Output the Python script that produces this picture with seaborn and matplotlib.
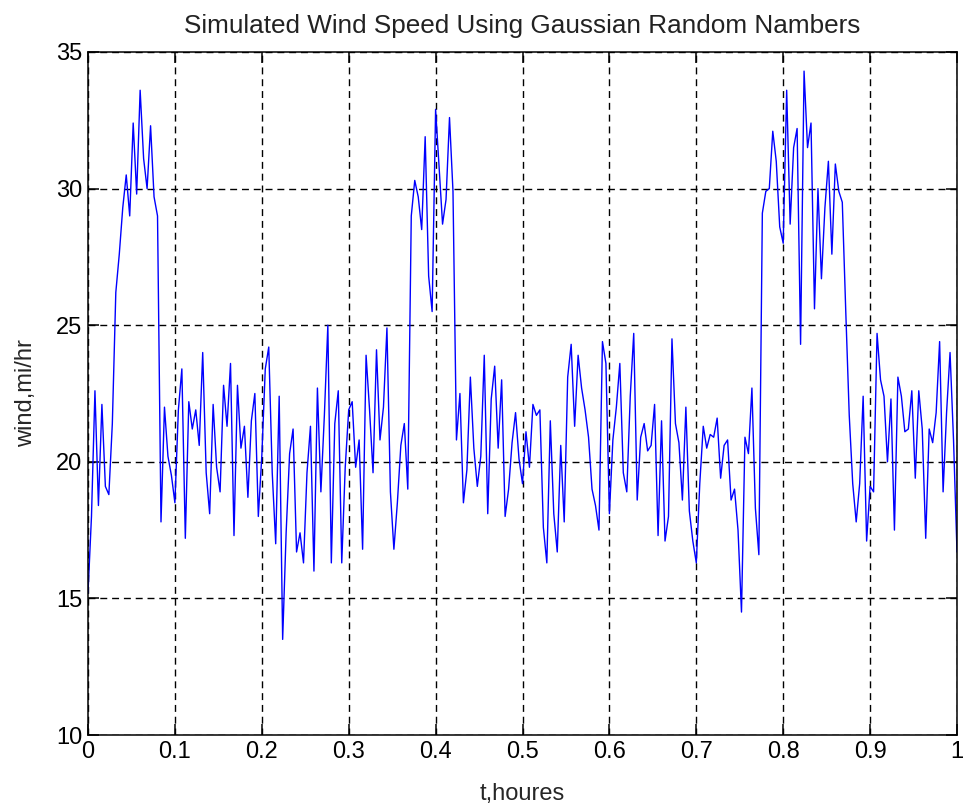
import numpy as np
import pandas as pd
import matplotlib
matplotlib.use("Agg")
import matplotlib.pyplot as plt
import seaborn as sns

wind_0 = [15.2, 18.0, 22.6, 18.4, 22.1, 19.1, 18.8, 21.4, 26.2, 27.6,
          29.3, 30.5, 29.0, 32.4, 29.8, 33.6, 31.1, 30.0, 32.3, 29.7,
          29.0, 17.8, 22.0, 20.2, 19.5]
wind_1 = [18.5, 21.9, 23.4, 17.2, 22.2, 21.2, 21.9, 20.6, 24.0, 19.6,
          18.1, 22.1, 19.8, 18.9, 22.8, 21.3, 23.6, 17.3, 22.8, 20.5,
          21.3, 18.7, 21.5, 22.5, 18.0]
wind_2 = [20.2, 23.4, 24.2, 19.6, 17.0, 22.4, 13.5, 17.4, 20.3, 21.2,
          16.7, 17.4, 16.3, 19.6, 21.3, 16.0, 22.7, 18.9, 21.7, 25.0,
          16.3, 21.4, 22.6, 16.3, 19.8]
wind_3 = [21.9, 22.2, 19.8, 20.8, 16.8, 23.9, 21.9, 19.6, 24.1, 20.8,
          22.0, 24.9, 18.9, 16.8, 18.5, 20.6, 21.4, 19.0, 29.0, 30.3,
          29.7, 28.5, 31.9, 26.8, 25.5]
wind_4 = [32.9, 30.8, 28.7, 29.6, 32.6, 29.9, 20.8, 22.5, 18.5, 19.7,
          23.1, 20.5, 19.1, 20.2, 23.9, 18.1, 22.3, 23.5, 20.5, 23.0,
          18.0, 19.0, 20.7, 21.8, 20.1]
wind_5 = [19.2, 21.1, 19.8, 22.1, 21.7, 21.9, 17.6, 16.3, 21.5, 18.1,
          16.7, 20.6, 17.8, 23.1, 24.3, 21.3, 23.9, 22.7, 21.9, 20.9,
          19.0, 18.4, 17.5, 24.4, 23.6]
wind_6 = [18.1, 20.8, 22.0, 23.6, 19.6, 18.9, 22.4, 24.7, 18.6, 20.9,
          21.4, 20.4, 20.6, 22.1, 17.3, 21.5, 17.1, 18.0, 24.5, 21.4,
          20.7, 18.6, 22.0, 18.2, 17.1]
wind_7 = [16.3, 19.2, 21.3, 20.5, 21.0, 20.9, 21.6, 19.4, 20.6, 20.8,
          18.6, 19.0, 17.5, 14.5, 20.9, 20.3, 22.7, 18.3, 16.6, 29.1,
          29.9, 30.0, 32.1, 31.0, 28.6]
wind_8 = [28.0, 33.6, 28.7, 31.5, 32.2, 24.3, 34.3, 31.5, 32.4, 25.6,
          30.0, 26.7, 29.3, 31.0, 27.6, 30.9, 29.9, 29.5, 25.5, 21.7,
          19.2, 17.8, 19.2, 22.4, 17.1]
wind_9 = [19.1, 18.9, 24.7, 23.0, 22.4, 20.0, 22.3, 17.5, 23.1, 22.4,
          21.1, 21.2, 22.6, 19.4, 22.6, 21.2, 17.2, 21.2, 20.7, 21.8,
          24.4, 18.9, 21.8, 24.0, 20.8, 16.7]

wind_speed = (wind_0 + wind_1 + wind_2 + wind_3 + wind_4 +
              wind_5 + wind_6 + wind_7 + wind_8 + wind_9)
time_step = 0.004
t_hours = [round(i * time_step, 3) for i in range(len(wind_speed))]

x_ticks = [0, 0.1, 0.2, 0.3, 0.4, 0.5, 0.6, 0.7, 0.8, 0.9, 1]
x_tick_labels = ["0", "0.1", "0.2", "0.3", "0.4", "0.5", "0.6", "0.7", "0.8", "0.9", "1"]
y_ticks = [10, 15, 20, 25, 30, 35]

title = "Simulated Wind Speed Using Gaussian Random Nambers"
x_label = "t,houres"
y_label = "wind,mi/hr"

df = pd.DataFrame({"t": t_hours, "wind": wind_speed})

# ---- style ----
sns.set_theme(style="white")
plt.rcParams["font.family"] = ["Liberation Sans", "DejaVu Sans"]

fig = plt.figure(figsize=(9.65, 8.05), dpi=100)
ax = fig.add_axes([88 / 965, 70 / 805, 869 / 965, 683 / 805])

sns.lineplot(data=df, x="t", y="wind", ax=ax, color=(0, 0, 1),
             linewidth=1.0, estimator=None, sort=False)

ax.set_xlim(0, 1)
ax.set_ylim(10, 35)
ax.set_xticks(x_ticks)
ax.set_xticklabels(x_tick_labels)
ax.set_yticks(y_ticks)

ax.grid(True, color="black", linestyle=(0, (5, 3.5)), linewidth=1.0)
ax.set_axisbelow(True)
for s in ax.spines.values():
    s.set_visible(True)
    s.set_color("black")
    s.set_linewidth(1.1)

ax.tick_params(axis="both", which="both", direction="in", length=8, width=1.1,
               top=True, right=True, bottom=True, left=True,
               labelsize=17, colors="black", pad=4)

ax.set_title(title, fontsize=18.8, color="#222222", pad=14)
ax.set_xlabel(x_label, fontsize=17, labelpad=15)
ax.set_ylabel(y_label, fontsize=17, labelpad=14)

fig.savefig("out.png", dpi=100, facecolor="white")
